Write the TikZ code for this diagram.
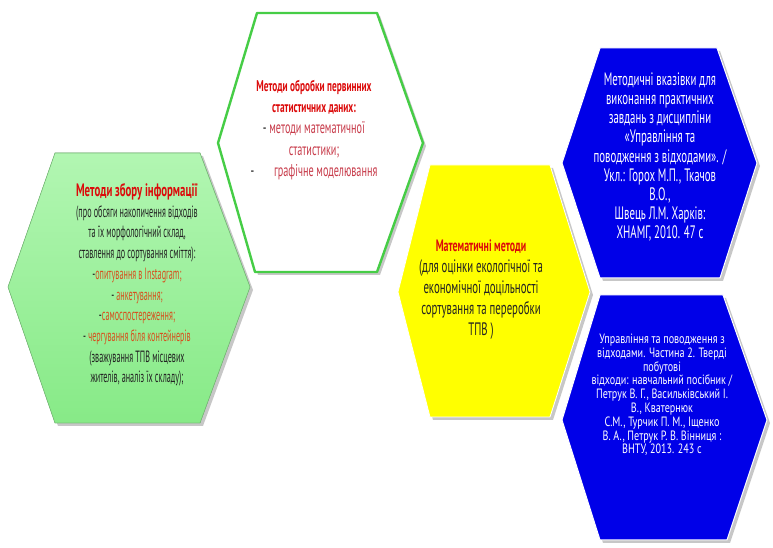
\documentclass[tikz,border=0pt]{standalone}
\usepackage{fontspec}
\setmainfont{PT Sans}[FakeStretch=0.6]
\newfontfamily\widehand{PT Sans}[FakeStretch=0.75]
\newfontfamily\narrowhand{PT Sans}[FakeStretch=0.5]
\definecolor{hexgreen}{RGB}{152,240,152}
\definecolor{hexgreentop}{RGB}{178,246,178}
\definecolor{hexgreenbot}{RGB}{135,234,135}
\definecolor{hexline}{RGB}{70,205,70}
\definecolor{hexyellow}{RGB}{255,255,0}
\definecolor{hexblue}{RGB}{0,0,232}
\definecolor{titlered}{RGB}{220,10,10}
\definecolor{itemorange}{RGB}{215,80,30}
\definecolor{itempink}{RGB}{200,60,75}
\definecolor{darktext}{RGB}{35,35,35}
\tikzset{
  hexshadow/.style={fill=black!22,draw=none},
  hextext/.style={align=center,inner sep=0pt},
}
\begin{document}
\begin{tikzpicture}[line join=bevel]
\useasboundingbox (0bp,0bp) rectangle (773bp,548bp);
%%
  % Shadows
  \fill [hexshadow] (58bp,392bp) -- (203bp,392bp) -- (253bp,258bp) -- (203bp,122bp) -- (58bp,122bp) -- (11bp,258bp) -- cycle;
  \fill [hexshadow] (260bp,532bp) -- (380bp,532bp) -- (426bp,402bp) -- (380bp,273bp) -- (258bp,273bp) -- (221bp,402bp) -- cycle;
  \fill [hexshadow] (433bp,380bp) -- (553bp,380bp) -- (593bp,253bp) -- (553bp,128bp) -- (433bp,128bp) -- (401bp,253bp) -- cycle;
  \fill [hexshadow] (603bp,497bp) -- (720bp,497bp) -- (760bp,382bp) -- (723bp,267bp) -- (603bp,267bp) -- (565bp,382bp) -- cycle;
  \fill [hexshadow] (603bp,250bp) -- (726bp,250bp) -- (770bp,125bp) -- (730bp,5bp) -- (603bp,5bp) -- (565bp,125bp) -- cycle;
  % Node: Zbir
\begin{scope}
  \filldraw [top color=hexgreentop,bottom color=hexgreenbot,draw=hexgreen!80!black,line width=0.6bp] (55bp,395bp) -- (200bp,395bp) -- (250bp,261bp) -- (200bp,125bp) -- (55bp,125bp) -- (8bp,261bp) -- cycle;
  \node [hextext,text=darktext,font=\narrowhand\fontsize{16.3bp}{20.7bp}\selectfont] (zbir) at (137bp,263bp) {%
    \textcolor{titlered}{\rmfamily\bfseries\fontsize{18bp}{20.7bp}\selectfont Методи збору інформації}\\
    (про обсяги накопичення відходів\\
    та їх морфологічний склад,\\
    ставлення до сортування сміття):\\
    -\textcolor{itemorange}{опитування в Instagram;}\\
    - \textcolor{itemorange}{анкетування;}\\
    -\textcolor{itemorange}{самоспостереження;}\\
    - \textcolor{itemorange}{чергування біля контейнерів}\\
    (зважування ТПВ місцевих\\
    жителів, аналіз їх складу);};
\end{scope}
  % Node: Obrobka
\begin{scope}
  \filldraw [fill=white,draw=hexline,line width=2.4bp] (257bp,535bp) -- (377bp,535bp) -- (423bp,405bp) -- (377bp,276bp) -- (255bp,276bp) -- (218bp,405bp) -- cycle;
  \node [hextext,text=darktext,font=\fontsize{17bp}{21.2bp}\selectfont] (obrobka) at (314bp,418bp) {%
    \textcolor{titlered}{\bfseries\fontsize{15.5bp}{21.2bp}\selectfont Методи обробки первинних}\\
    \textcolor{titlered}{\bfseries\fontsize{15.5bp}{21.2bp}\selectfont статистичних даних:}\\
    - \textcolor{itempink}{методи математичної}\\
    \textcolor{itempink}{статистики;}\\
    -\quad\ \textcolor{itempink}{графічне моделювання}};
\end{scope}
  % Node: Matem
\begin{scope}
  \filldraw [fill=hexyellow,draw=white,line width=0.8bp] (430bp,383bp) -- (550bp,383bp) -- (590bp,256bp) -- (550bp,131bp) -- (430bp,131bp) -- (398bp,256bp) -- cycle;
  \node [hextext,text=darktext,font=\fontsize{18bp}{21bp}\selectfont] (matem) at (481bp,258bp) {%
    \textcolor{titlered}{\bfseries\fontsize{16.5bp}{21bp}\selectfont Математичні методи}\\
    (для оцінки екологічної та\\
    економічної доцільності\\
    сортування та переробки\\
    ТПВ )};
\end{scope}
  % Node: Vkazivky
\begin{scope}
  \filldraw [fill=hexblue,draw=white,line width=1bp] (600bp,500bp) -- (717bp,500bp) -- (757bp,385bp) -- (720bp,270bp) -- (600bp,270bp) -- (562bp,385bp) -- cycle;
  \node [hextext,text=white,font=\fontsize{18bp}{19.1bp}\selectfont] (vkazivky) at (660bp,391bp) {%
    Методичні вказівки для\\
    виконання практичних\\
    завдань з дисципліни\\
    «Управління та\\
    поводження з відходами». /\\
    Укл.: Горох М.П., Ткачов\\
    В.О.,\\
    Швець Л.М. Харків:\\
    ХНАМГ, 2010. 47 с};
\end{scope}
  % Node: Posibnyk
\begin{scope}
  \filldraw [fill=hexblue,draw=white,line width=1bp] (600bp,253bp) -- (723bp,253bp) -- (767bp,128bp) -- (727bp,8bp) -- (600bp,8bp) -- (562bp,128bp) -- cycle;
  \node [hextext,text=white,font=\widehand\fontsize{13.5bp}{13.8bp}\selectfont] (posibnyk) at (662bp,153bp) {%
    Управління та поводження з\\
    відходами. Частина 2. Тверді\\
    побутові\\
    відходи: навчальний посібник /\\
    Петрук В. Г., Васильківський І.\\
    В., Кватернюк\\
    С.М., Турчик П. М., Іщенко\\
    В. А., Петрук Р. В. Вінниця :\\
    ВНТУ, 2013. 243 с};
\end{scope}
%
\end{tikzpicture}
\end{document}
